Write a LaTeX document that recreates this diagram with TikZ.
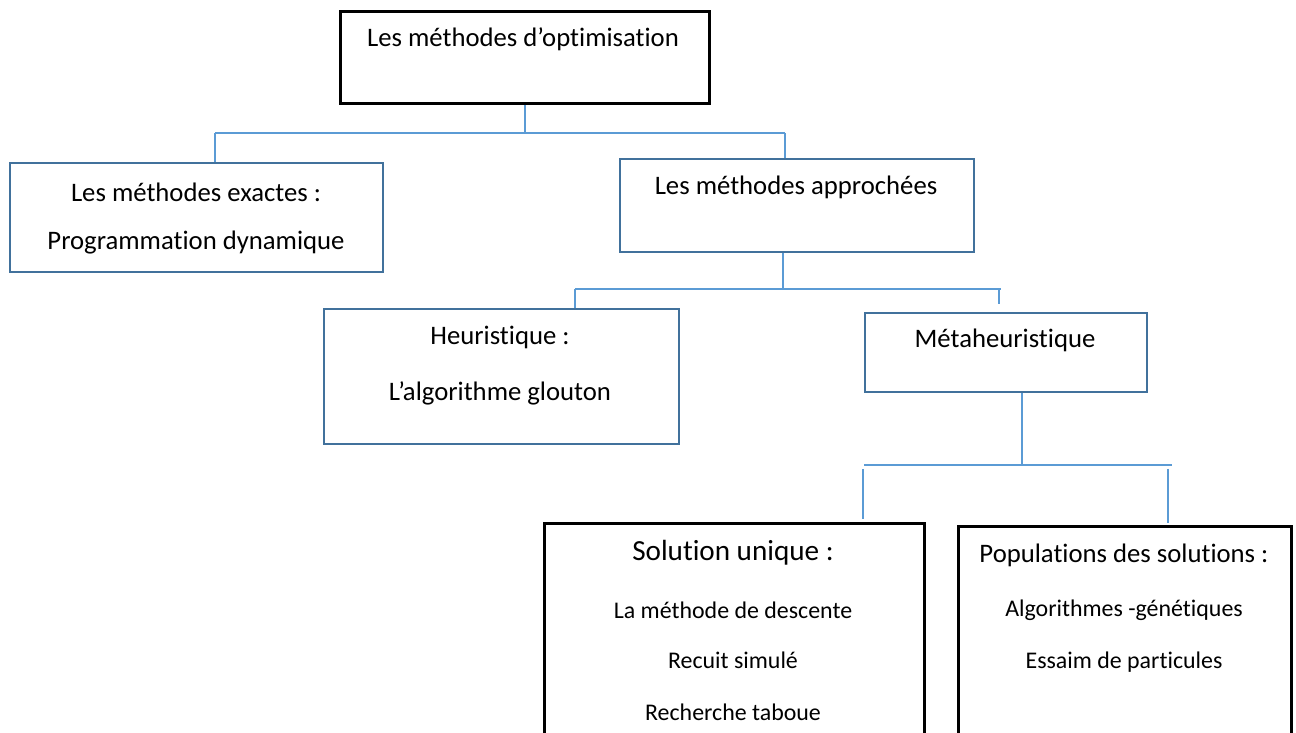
\documentclass[tikz,border=0pt]{standalone}
\usepackage{fontspec}
\setmainfont[Ligatures=NoCommon]{Carlito}
\usetikzlibrary{calc}
\definecolor{boxblue}{HTML}{41719C}
\definecolor{linkblue}{HTML}{5B9BD5}
\newcommand{\px}{0.02cm}
\tikzset{
  bluebox/.style={draw=boxblue, line width=1.4pt, anchor=north west, inner sep=0pt},
  blackbox/.style={draw=black, line width=1.7pt, anchor=north west, inner sep=0pt},
  link/.style={linkblue, line width=0.8pt},
  txt/.style={inner sep=0pt, font=\fontsize{15.2}{18}\selectfont},
  subtxt/.style={inner sep=0pt, font=\fontsize{13.6}{16}\selectfont},
}

\begin{document}
\begin{tikzpicture}[x=\px, y=-\px]
\useasboundingbox (0,0) rectangle (1296,733);
\clip (0,0) rectangle (1296,733);

% boxes
\node[blackbox, minimum width=369*\px, minimum height=92*\px]  (top)   at (339,10)  {};
\node[bluebox,  minimum width=373*\px, minimum height=109*\px] (exact) at (9,162)   {};
\node[bluebox,  minimum width=354*\px, minimum height=93*\px]  (appr)  at (619,158) {};
\node[bluebox,  minimum width=355*\px, minimum height=135*\px] (heur)  at (323,308) {};
\node[bluebox,  minimum width=282*\px, minimum height=79*\px]  (meta)  at (864,312) {};
\node[blackbox, minimum width=380*\px, minimum height=240*\px] (sol)   at (543,522) {};
\node[blackbox, minimum width=333*\px, minimum height=240*\px] (pop)   at (957,525) {};

% texts
\node[txt] (toplbl)   at (523,39)  {Les méthodes d’optimisation};
\node[txt] (exactlbl) at (196,192) {Les méthodes exactes :};
\node[txt] (exactsub) at (196,243) {Programmation dynamique};
\node[txt] (apprlbl)  at (796,187) {Les méthodes approchées};
\node[txt] (heurlbl)  at (500,337) {Heuristique :};
\node[txt] (heursub)  at (500,393) {L’algorithme glouton};
\node[txt] (metalbl)  at (1005,340) {Métaheuristique};
\node[inner sep=0pt, font=\fontsize{16.6}{20}\selectfont] (sollbl) at (733,553) {Solution unique :};
\node[subtxt] (sola) at (733,610) {La méthode de descente};
\node[subtxt] (solb) at (733,660) {Recuit simulé};
\node[subtxt] (solc) at (733,712) {Recherche taboue};
\node[txt] (poplbl)   at (1124,555) {Populations des solutions :};
\node[subtxt] (popa) at (1124,610) {Algorithmes -génétiques};
\node[subtxt] (popb) at (1124,662) {Essaim de particules};

% connectors
\coordinate (h1l) at (215,133);
\coordinate (h1r) at (785,133);
\draw[link] (top.south) -- (top.south |- h1l);
\draw[link] (h1l) -- (h1r);
\draw[link] (h1l) -- (h1l |- exact.north);
\draw[link] (h1r) -- (h1r |- appr.north);

\coordinate (h2c) at (783,289);
\coordinate (h2l) at (575,289);
\coordinate (h2r) at (1001,289);
\coordinate (h2e) at (999,304);
\draw[link] (h2c |- appr.south) -- (h2c);
\draw[link] (h2l) -- (h2r);
\draw[link] (h2l) -- (h2l |- heur.north);
\draw[link] (h2e |- h2c) -- (h2e);

\coordinate (h3c) at (1022,465);
\coordinate (h3l) at (864,465);
\coordinate (h3r) at (1172,465);
\coordinate (t3l) at (863,519);
\coordinate (t3r) at (1168,523);
\draw[link] (h3c |- meta.south) -- (h3c);
\draw[link] (h3l) -- (h3r);
\draw[link] ($(t3l |- h3c)+(0,4)$) -- (t3l);
\draw[link] ($(t3r |- h3c)+(0,4)$) -- (t3r);
\end{tikzpicture}
\end{document}
